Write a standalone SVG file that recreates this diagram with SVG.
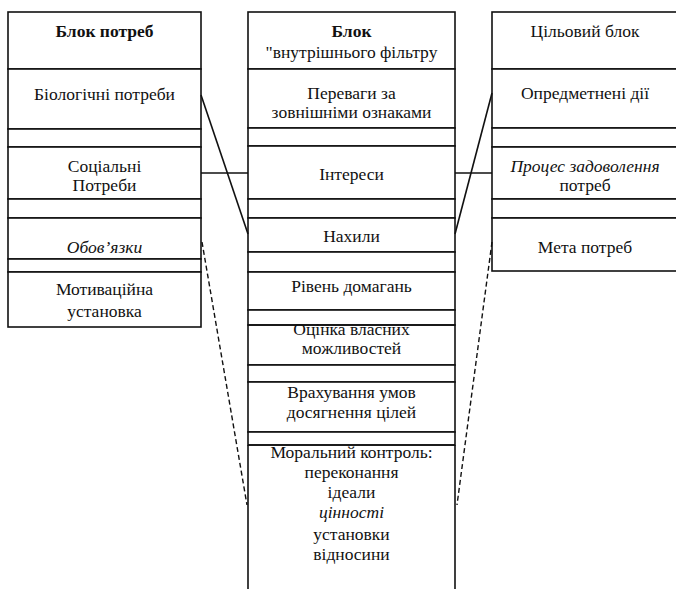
<svg xmlns="http://www.w3.org/2000/svg" width="676" height="589" viewBox="0 0 676 589">
<style>
.b{fill:#fff;stroke:#111;stroke-width:1.6}
.ln{stroke:#111;stroke-width:1.6;fill:none}
.d{stroke:#111;stroke-width:1.4;fill:none;stroke-dasharray:5 3}
text{font-family:"Liberation Serif","DejaVu Serif","Times New Roman",serif;font-size:17.5px;fill:#111;text-anchor:middle}
.bo{font-weight:bold}
.it{font-style:italic}
</style>
<rect width="676" height="589" fill="#fff"/>
<g id="col-left">
<g id="n-blok-potreb"><rect class="b" x="8" y="12" width="193" height="57"/><text class="bo" x="104.5" y="37">Блок потреб</text></g>
<g id="n-biol"><rect class="b" x="8" y="69" width="193" height="60"/><text x="104.5" y="100">Біологічні потреби</text></g>
<rect class="b" x="8" y="129" width="193" height="18"/>
<g id="n-soc"><rect class="b" x="8" y="147" width="193" height="52"/><text x="104.5" y="172">Соціальні</text><text x="104.5" y="191">Потреби</text></g>
<rect class="b" x="8" y="199" width="193" height="19"/>
<g id="n-oboviazky"><rect class="b" x="8" y="218" width="193" height="41"/><text class="it" x="104.5" y="253">Обов’язки</text></g>
<rect class="b" x="8" y="259" width="193" height="13"/>
<g id="n-motiv"><rect class="b" x="8" y="272" width="193" height="55"/><text x="104.5" y="295">Мотиваційна</text><text x="104.5" y="317">установка</text></g>
</g>
<g id="col-mid">
<g id="n-filter"><rect class="b" x="248" y="12" width="207" height="57"/><text class="bo" x="351.5" y="37">Блок</text><text x="351.5" y="58">"внутрішнього фільтру</text></g>
<g id="n-perevagy"><rect class="b" x="248" y="69" width="207" height="59"/><text x="351.5" y="99">Переваги за</text><text x="351.5" y="118">зовнішніми ознаками</text></g>
<rect class="b" x="248" y="128" width="207" height="18"/>
<g id="n-interesy"><rect class="b" x="248" y="146" width="207" height="53"/><text x="351.5" y="180">Інтереси</text></g>
<rect class="b" x="248" y="199" width="207" height="19"/>
<g id="n-nakhyly"><rect class="b" x="248" y="218" width="207" height="34"/><text x="351.5" y="242">Нахили</text></g>
<rect class="b" x="248" y="252" width="207" height="20"/>
<g id="n-riven"><rect class="b" x="248" y="272" width="207" height="38"/><text x="351.5" y="292">Рівень домагань</text></g>
<rect class="b" x="248" y="310" width="207" height="15"/>
<g id="n-otsinka"><text x="351.5" y="335">Оцінка власних</text><text x="351.5" y="354">можливостей</text><rect class="ln" x="248" y="325" width="207" height="40"/></g>
<rect class="b" x="248" y="365" width="207" height="17"/>
<g id="n-vrakh"><rect class="b" x="248" y="382" width="207" height="50"/><text x="351.5" y="398">Врахування умов</text><text x="351.5" y="418">досягнення цілей</text></g>
<rect class="b" x="248" y="432" width="207" height="13"/>
<g id="n-moral"><path class="ln" d="M248 445 V589 M455 445 V589"/><text x="351.5" y="458">Моральний контроль:</text><path class="ln" d="M248 445 H455"/><text x="351.5" y="478">переконання</text><text x="351.5" y="498">ідеали</text><text class="it" x="351.5" y="518">цінності</text><text x="351.5" y="540">установки</text><text x="351.5" y="560">відносини</text></g>
</g>
<g id="col-right">
<g id="n-tsil"><rect class="b" x="492" y="12" width="190" height="57"/><text x="585" y="37">Цільовий блок</text></g>
<g id="n-opred"><rect class="b" x="492" y="69" width="190" height="59"/><text x="585" y="99">Опредметнені дії</text></g>
<rect class="b" x="492" y="128" width="190" height="19"/>
<g id="n-protses"><rect class="b" x="492" y="147" width="190" height="52"/><text class="it" x="585" y="172">Процес задоволення</text><text x="585" y="191">потреб</text></g>
<rect class="b" x="492" y="199" width="190" height="19"/>
<g id="n-meta"><rect class="b" x="492" y="218" width="190" height="53"/><text x="585" y="253">Мета потреб</text></g>
</g>
<g id="connectors">
<path class="ln" d="M201 95 L248 234"/>
<path class="ln" d="M201 173 H248"/>
<path class="ln" d="M455 234 L492 93"/>
<path class="ln" d="M455 173 H492"/>
<path class="d" d="M202 242 L247 505"/>
<path class="d" d="M492 242 L457 505"/>
</g>
</svg>
